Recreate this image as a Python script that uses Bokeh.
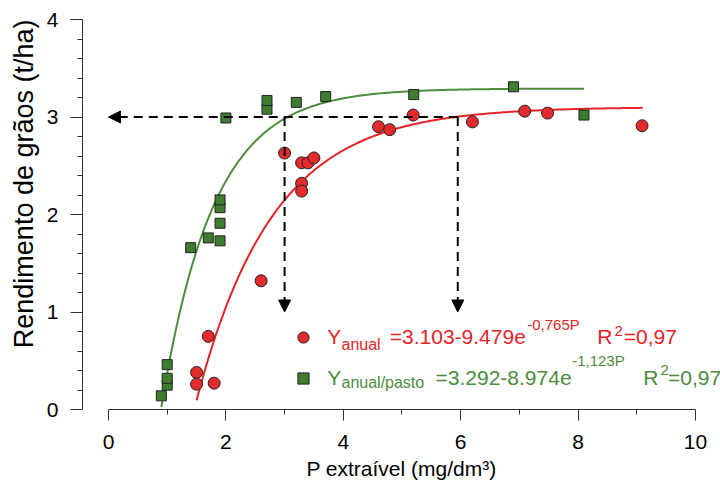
from bokeh.plotting import figure
from bokeh.embed import file_html
from bokeh.resources import INLINE
from bokeh.core.properties import value
from bokeh.models import (Range1d, FixedTicker, Label, Legend, LegendItem, Arrow,
                          NormalHead, ColumnDataSource, Title)
import numpy as np

# ---- data ----
p_anual = [1.50, 1.50, 1.70, 1.80, 2.60, 3.00, 3.29, 3.29, 3.29, 3.40, 3.50,
           4.60, 4.79, 5.19, 6.20, 7.09, 7.48, 9.09]
y_anual = [0.38, 0.26, 0.75, 0.27, 1.32, 2.63, 2.53, 2.32, 2.24, 2.53, 2.58,
           2.90, 2.87, 3.02, 2.95, 3.06, 3.04, 2.91]

p_pasto = [0.90, 1.00, 1.00, 1.00, 1.40, 1.70, 1.90, 1.90, 1.90, 1.90, 2.00,
           2.70, 2.70, 3.20, 3.70, 5.20, 6.90, 8.10]
y_pasto = [0.14, 0.25, 0.32, 0.46, 1.66, 1.76, 1.73, 1.91, 2.07, 2.15, 2.99,
           3.08, 3.17, 3.15, 3.21, 3.23, 3.31, 3.02]

# fitted models as printed on the chart: Y = a - b*exp(-c*P)
fit_anual = dict(a=3.103, b=9.479, c=0.765, p_min=1.5, p_max=9.1)
fit_pasto = dict(a=3.292, b=8.974, c=1.123, p_min=0.9, p_max=8.1)

# guide arrows (target yield 3 t/ha)
target_yield = 3.0
p_read = [3.0, 5.95]
arrow_end_yield = 1.0
arrow_end_p = 0.0

x_ticks = [0, 2, 4, 6, 8, 10]
x_minor = [1, 3, 5, 7, 9]
y_ticks = [0, 1, 2, 3, 4]
y_minor = [0.2, 0.4, 0.6, 0.8, 1.2, 1.4, 1.6, 1.8, 2.2, 2.4, 2.6, 2.8,
           3.2, 3.4, 3.6, 3.8]

RED = "#e52427"
RED_FILL = "#e32a2c"
GREEN = "#4c8c3c"
GREEN_FILL = "#3e7d30"
FONT = "Liberation Sans"

p = figure(width=720, height=488, output_backend="svg", toolbar_location=None,
           x_range=Range1d(-0.443, 10.426), y_range=Range1d(0, 4),
           min_border_left=82, min_border_right=0, min_border_top=19,
           min_border_bottom=79)
p.outline_line_color = None
p.grid.visible = False
p.background_fill_color = "white"

# axes
xa = p.xaxis[0]
xa.bounds = (0, 10)
xa.ticker = FixedTicker(ticks=x_ticks, minor_ticks=x_minor)
ya = p.yaxis[0]
ya.ticker = FixedTicker(ticks=y_ticks, minor_ticks=y_minor)
for ax in (xa, ya):
    ax.axis_line_color = "#333333"
    ax.major_tick_line_color = "#333333"
    ax.minor_tick_line_color = "#333333"
    ax.major_tick_in = 0
    ax.minor_tick_in = 0
    ax.major_label_text_font = FONT
    ax.major_label_text_font_size = "21px"
    ax.major_label_text_color = "black"
    ax.axis_label_text_font = FONT
    ax.axis_label_text_font_style = "normal"
    ax.axis_label_text_color = "black"
xa.major_tick_out = 11
xa.minor_tick_out = 5
xa.major_label_standoff = 14
xa.axis_label = "P extraível (mg/dm³)"
xa.axis_label_text_font_size = "21px"
xa.axis_label_standoff = 5
ya.major_tick_out = 12
ya.minor_tick_out = 5
ya.major_label_standoff = 12

# y title, aligned to the top of the plot area like the original
p.add_layout(Title(text="Rendimento de grãos (t/ha)", align="right", offset=0,
                   vertical_align="middle", standoff=7,
                   text_font=FONT, text_font_size="27px", text_font_style="normal",
                   text_color="black"), "left")

# fitted curves
for fit, col in ((fit_anual, RED), (fit_pasto, GREEN)):
    px = np.linspace(fit["p_min"], fit["p_max"], 200)
    py = fit["a"] - fit["b"] * np.exp(-fit["c"] * px)
    p.line(px, py, line_color=col, line_width=2)

# guide arrows
arrow_src = ColumnDataSource(dict(
    x0=[p_read[1], p_read[0], p_read[1]],
    y0=[target_yield, target_yield, target_yield],
    x1=[arrow_end_p, p_read[0], p_read[1]],
    y1=[target_yield, arrow_end_yield, arrow_end_yield]))
p.add_layout(Arrow(source=arrow_src, x_start="x0", y_start="y0", x_end="x1", y_end="y1",
                   line_color="black", line_width=2, line_dash="9 6",
                   end=NormalHead(size=12, fill_color="black", line_color="black",
                                  line_width=1)))

# points
r_pasto = p.scatter(p_pasto, y_pasto, marker="square", size=10,
                    fill_color=GREEN_FILL, line_color="#222222", line_width=1)
r_anual = p.scatter(p_anual, y_anual, marker="circle", size=12,
                    fill_color=RED_FILL, line_color="#222222", line_width=1)

# legend keys
legend = Legend(items=[LegendItem(label=value(""), renderers=[r_anual]),
                       LegendItem(label=value(""), renderers=[r_pasto])],
                location=(207, 17), orientation="vertical",
                glyph_width=28, glyph_height=28, spacing=13, padding=0, margin=0,
                label_width=0, label_height=0, label_standoff=0,
                border_line_color=None, background_fill_alpha=0)
p.add_layout(legend)

# legend texts (with sub/superscripts), anchored at their vertical middle
def lab(x, y, text, size, color):
    p.add_layout(Label(x=x, y=y, text=text, text_font=FONT, text_font_size=size,
                       text_color=color, text_baseline="middle", text_align="left"))

lab(3.726, 0.746, "Y", "21px", RED)
lab(3.969, 0.666, "anual", "16px", RED)
lab(4.792, 0.746, "=3.103-9.479e", "21px", RED)
lab(7.133, 0.868, "-0,765P", "15px", RED)
lab(8.325, 0.746, "R", "21px", RED)
lab(8.620, 0.809, "2", "15px", RED)
lab(8.779, 0.746, "=0,97", "21px", RED)

lab(3.726, 0.328, "Y", "21px", GREEN)
lab(3.969, 0.276, "anual/pasto", "16px", GREEN)
lab(5.571, 0.328, "=3.292-8.974e", "21px", GREEN)
lab(7.899, 0.501, "-1,123P", "15px", GREEN)
lab(9.109, 0.328, "R", "21px", GREEN)
lab(9.404, 0.406, "2", "15px", GREEN)
lab(9.533, 0.328, "=0,97", "21px", GREEN)

open("out.html", "w").write(file_html(p, INLINE))
